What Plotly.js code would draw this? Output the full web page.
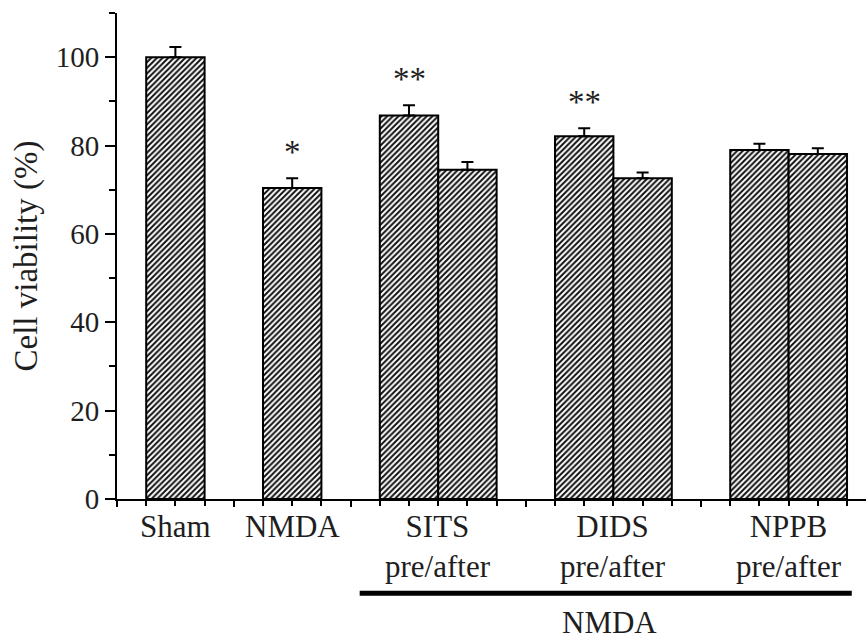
<!DOCTYPE html>
<html>
<head>
<meta charset="utf-8">
<script src="https://cdn.plot.ly/plotly-3.0.1.min.js"></script>
<style>html,body{margin:0;padding:0;background:#fff;}#chart{width:866px;height:636px;}</style>
</head>
<body>
<div id="chart"></div>
<script>
// ---- data ----
const groupLabels = ["Sham", "NMDA", "SITS<br>pre/after", "DIDS<br>pre/after", "NPPB<br>pre/after"];
const groupSizes  = [1, 1, 2, 2, 2];
const viability   = [100.0, 70.4, 86.8, 74.5, 82.1, 72.6, 79.0, 78.1];
const sem         = [2.3, 2.2, 2.3, 1.8, 1.8, 1.3, 1.4, 1.3];
const stars       = ["", "*", "**", "", "**", "", "", ""];
const yTicks      = [0, 20, 40, 60, 80, 100];
const yTitle      = "Cell viability (%)";
const bracketLabel = "NMDA";

// ---- bar positions computed from the group structure ----
const barW = 2, gap = 2;
const xs = [], groupCenters = [], separators = [0];
let pos = 1;
groupSizes.forEach((n, g) => {
  const start = pos;
  for (let i = 0; i < n; i++) { xs.push(pos + barW / 2); pos += barW; }
  groupCenters.push((start + pos) / 2);
  pos += gap;
  if (g < groupSizes.length - 1) separators.push(pos - gap / 2);
});

const font = "Liberation Serif, Times New Roman, serif";
const txt = "#1e1e1e";

const trace = {
  type: "bar",
  x: xs,
  y: viability,
  width: xs.map(() => barW),
  marker: {
    color: "#ffffff",
    line: {color: "#000", width: 2},
    pattern: {shape: "/", size: 4, solidity: 0.5, fgcolor: "#111", bgcolor: "#ffffff", fgopacity: 1}
  },
  error_y: {type: "data", symmetric: false, array: sem, arrayminus: sem.map(() => 0),
            color: "#000", thickness: 2, width: 6},
  hoverinfo: "none"
};

const annotations = [];
groupLabels.forEach((lab, i) => {
  annotations.push({x: groupCenters[i], xref: "x", y: 0, yref: "paper", yanchor: "top",
    yshift: -8, text: lab, showarrow: false, font: {family: font, size: 31, color: txt}});
});
stars.forEach((s, i) => {
  if (!s) return;
  annotations.push({x: xs[i], xref: "x", y: viability[i] + sem[i], yref: "y", yanchor: "bottom",
    yshift: 6, text: s, showarrow: false, font: {family: font, size: 33, color: txt}});
});
annotations.push({x: 0.658, xref: "paper", y: -0.215, yref: "paper", yanchor: "top",
  text: bracketLabel, showarrow: false, font: {family: font, size: 31, color: txt}});

const layout = {
  width: 866, height: 636,
  margin: {l: 117, r: 0, t: 13, b: 137},
  paper_bgcolor: "#fff", plot_bgcolor: "#fff",
  showlegend: false,
  bargap: 0,
  xaxis: {
    range: [0, 25.65], showgrid: false, zeroline: false,
    showline: true, linecolor: "#000", linewidth: 2,
    tickmode: "array", tickvals: separators, ticks: "outside", ticklen: 6, tickwidth: 2, tickcolor: "#000",
    showticklabels: false,
    minor: {tickmode: "linear", tick0: 0, dtick: 1, ticks: "outside", ticklen: 5, tickwidth: 2, tickcolor: "#000", showgrid: false}
  },
  yaxis: {
    range: [0, 110], showgrid: false, zeroline: false,
    showline: true, linecolor: "#000", linewidth: 2,
    tickmode: "array", tickvals: yTicks, ticks: "outside", ticklen: 10, tickwidth: 2, tickcolor: "#000",
    tickfont: {family: font, size: 29, color: txt},
    minor: {tickmode: "linear", tick0: 10, dtick: 20, ticks: "outside", ticklen: 6, tickwidth: 2, tickcolor: "#000", showgrid: false},
    title: {text: yTitle, font: {family: font, size: 33, color: txt}, standoff: 8}
  },
  shapes: [{type: "line", xref: "paper", yref: "paper", x0: 0.324, x1: 0.981, y0: -0.194, y1: -0.194,
            line: {color: "#000", width: 5}}],
  annotations: annotations
};

Plotly.newPlot("chart", [trace], layout, {displayModeBar: false, staticPlot: true});
</script>
</body>
</html>
